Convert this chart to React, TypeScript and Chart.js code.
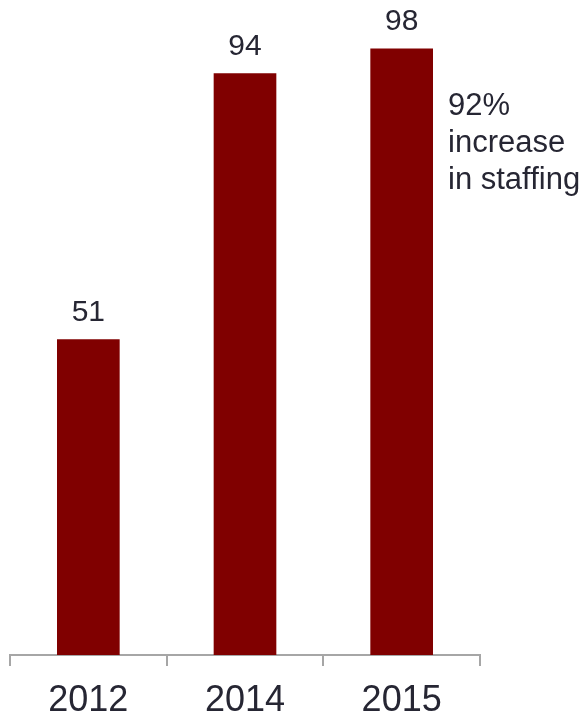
import React, { useEffect, useRef } from "react";
import { Chart, registerables } from "chart.js";

Chart.register(...registerables);

const categories = ["2012", "2014", "2015"];
const staffing = [51, 94, 98];
const noteLines = ["92%", "increase", "in staffing"];

const TEXT = "#262633";
const FONT = "'Liberation Sans', Arial, sans-serif";

const labelPlugin = {
  id: "labels",
  afterDatasetsDraw(chart: any) {
    const ctx = chart.ctx;
    const meta = chart.getDatasetMeta(0);
    ctx.save();
    ctx.fillStyle = TEXT;
    ctx.font = `30px ${FONT}`;
    ctx.textAlign = "center";
    ctx.textBaseline = "alphabetic";
    meta.data.forEach((bar: any, i: number) => {
      ctx.fillText(String(staffing[i]), bar.x, bar.y - 18);
    });
    const last = meta.data[meta.data.length - 1] as any;
    const left = last.x + last.width / 2 + 15;
    ctx.font = `31px ${FONT}`;
    ctx.textAlign = "left";
    const base = last.y + 67;
    noteLines.forEach((t, i) => {
      ctx.fillText(t, left, base + i * 37);
    });
    ctx.restore();
  },
};

export default function App() {
  const ref = useRef<HTMLCanvasElement>(null);
  useEffect(() => {
    if (!ref.current) return;
    const chart = new Chart(ref.current, {
      type: "bar",
      data: {
        labels: categories,
        datasets: [
          {
            data: staffing,
            backgroundColor: "#800000",
            barPercentage: 0.4,
            categoryPercentage: 1,
          },
        ],
      },
      options: {
        animation: false,
        responsive: false,
        maintainAspectRatio: false,
        layout: { padding: { top: 36, left: 10, right: 106, bottom: 0 } },
        plugins: { legend: { display: false }, tooltip: { enabled: false } },
        scales: {
          x: {
            afterFit(scale: any) {
              scale.height = 60;
            },
            grid: {
              drawOnChartArea: false,
              drawTicks: true,
              tickLength: 11,
              color: "#a6a6a6",
              lineWidth: 2,
              offset: true,
            },
            border: { color: "#a6a6a6", width: 2 },
            ticks: {
              color: TEXT,
              font: { size: 36, family: FONT, lineHeight: 1 },
              padding: 17,
              maxRotation: 0,
            },
          },
          y: {
            display: false,
            min: 0,
            max: 100,
          },
        },
      },
      plugins: [labelPlugin],
    });
    return () => chart.destroy();
  }, []);
  return (
    <div style={{ position: "absolute", left: 0, top: 0, width: 586, height: 715 }}>
      <canvas ref={ref} width={586} height={715} style={{ width: 586, height: 715, display: "block" }} />
    </div>
  );
}
